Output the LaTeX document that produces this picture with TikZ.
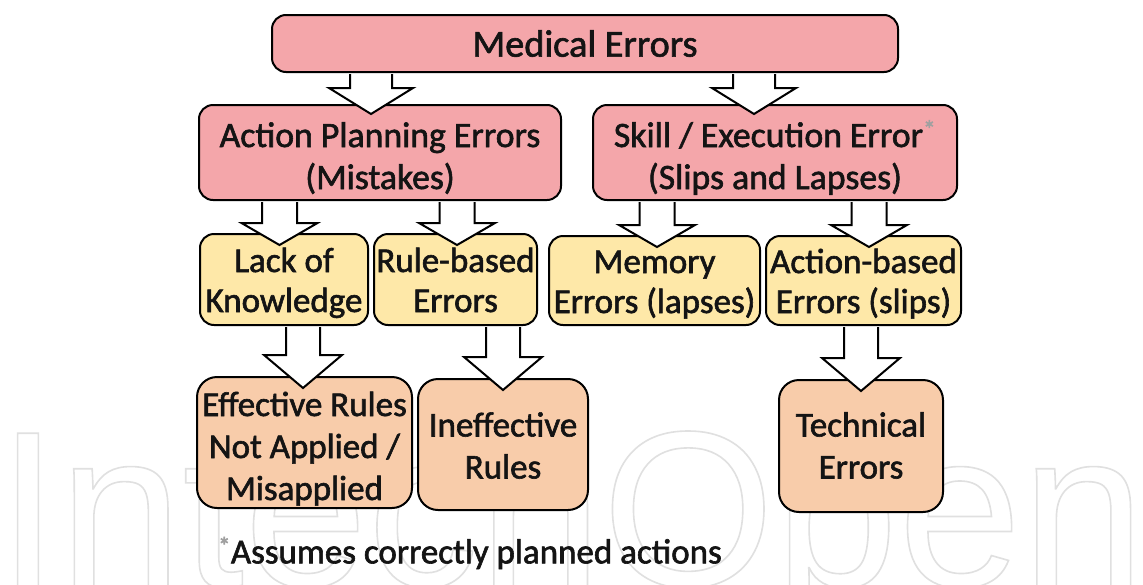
\documentclass[tikz,border=0pt]{standalone}
\usepackage{fontspec}
\setmainfont{Carlito}
\newfontfamily\wmfont{Liberation Sans}
\usetikzlibrary{calc}
\definecolor{pinkbox}{HTML}{F4A6AA}
\definecolor{yellowbox}{HTML}{FEE8A8}
\definecolor{peachbox}{HTML}{F8CCAA}
\definecolor{txt}{HTML}{141414}
\definecolor{star}{HTML}{A0A0A0}
\newcommand{\ts}[1][39pt]{\rule{0pt}{#1}}
\newcommand{\bs}{\rule[-8pt]{0pt}{0pt}}
\newcommand{\heavyon}{\special{pdf:literal direct 2 Tr 0.6 w}}
\newcommand{\heavyoff}{\special{pdf:literal direct 0 Tr}}
\newcommand{\blockar}[7]{%
  \draw[blockarrow] let \p1=(#2.south), \p2=(#3.north) in
   (#1pt-#4pt,\y1-1pt) -- (#1pt-#4pt,\y2-#7pt+#6pt) -- (#1pt-#5pt,\y2-#7pt+#6pt)
   -- (#1pt,\y2-#7pt) -- (#1pt+#5pt,\y2-#7pt+#6pt) -- (#1pt+#4pt,\y2-#7pt+#6pt)
   -- (#1pt+#4pt,\y1-1pt);}
\begin{document}
\begin{tikzpicture}[x=1pt,y=-1pt,
  box/.style={draw=black, line width=2pt, rounded corners=14pt, align=center,
    text=txt, inner sep=0pt, anchor=center,
    execute at begin node=\heavyon, execute at end node=\heavyoff},
  big/.style={box, fill=pinkbox, font=\fontsize{35.7}{42}\selectfont},
  title/.style={box, fill=pinkbox, font=\fontsize{38.3}{42}\selectfont},
  mid/.style={box, fill=yellowbox, font=\fontsize{35}{40}\selectfont},
  low/.style={box, fill=peachbox, rounded corners=20pt, font=\fontsize{35}{42}\selectfont},
  blockarrow/.style={draw=black, line width=2pt, fill=white, line join=miter},
  watermark/.style={anchor=base west, inner sep=0pt, font=\wmfont\fontsize{222}{222}\selectfont}]
\useasboundingbox (0,0) rectangle (1143,584);
\fill[white] (0,0) rectangle (1143,584);
% faint watermark
\node[watermark] (wm) at (-3,586) {\special{pdf:literal direct 1 Tr 1.6 w 0.88 G}IntechOpen\special{pdf:literal direct 0 Tr 0 G}};
% boxes
\node[title, minimum width=626, minimum height=57] (med) at (585,43.5) {Medical Errors};
\node[big, minimum width=362, minimum height=95] (apl) at (380,152.5) {\ts Action Planning Errors\\(Mistakes)\bs};
\node[big, minimum width=364, minimum height=95] (ske) at (775,152.5) {\ts Skill / Execution Error\textsuperscript{\textcolor{star}{*}}\\(Slips and Lapses)\bs};
\node[mid, minimum width=168, minimum height=91] (lok) at (284,279.5) {\ts[33pt]Lack of\\Knowledge\bs};
\node[mid, minimum width=163, minimum height=91] (rbe) at (455.5,279.5) {\ts[33pt]Rule-based\\Errors\bs};
\node[mid, minimum width=211, minimum height=89] (mem) at (654.5,280.5) {\ts[33pt]Memory\\Errors (lapses)\bs};
\node[mid, minimum width=195, minimum height=89] (abe) at (863.5,280.5) {\ts[33pt]Action-based\\Errors (slips)\bs};
\node[low, minimum width=215, minimum height=129] (eff) at (304.5,442.5) {\ts Effective Rules\\Not Applied /\\Misapplied\bs};
\node[low, minimum width=170, minimum height=131] (ine) at (503,444.5) {\ts[34pt]Ineffective\\Rules\bs};
\node[low, minimum width=164, minimum height=132] (tec) at (861,446) {\ts[31pt]Technical\\Errors\bs};
\node[anchor=west, inner sep=0pt, text=txt, font=\fontsize{35}{40}\selectfont] (note) at (218,553) {\heavyon\textsuperscript{\textcolor{star}{*}}Assumes correctly planned actions\heavyoff};
% block arrows
\blockar{371}{med}{apl}{21}{42}{26}{10}
\blockar{754}{med}{ske}{21}{42}{26}{10}
\blockar{279.5}{apl}{lok}{17.5}{38}{22}{12}
\blockar{457}{apl}{rbe}{17.5}{38}{22}{12}
\blockar{657}{ske}{mem}{17.5}{38}{22}{12}
\blockar{869}{ske}{abe}{17.5}{38}{22}{12}
\blockar{303}{lok}{eff}{17}{39}{33}{12}
\blockar{503}{rbe}{ine}{17}{39}{33}{12}
\blockar{861}{abe}{tec}{17}{39}{33}{12}
\end{tikzpicture}
\end{document}
